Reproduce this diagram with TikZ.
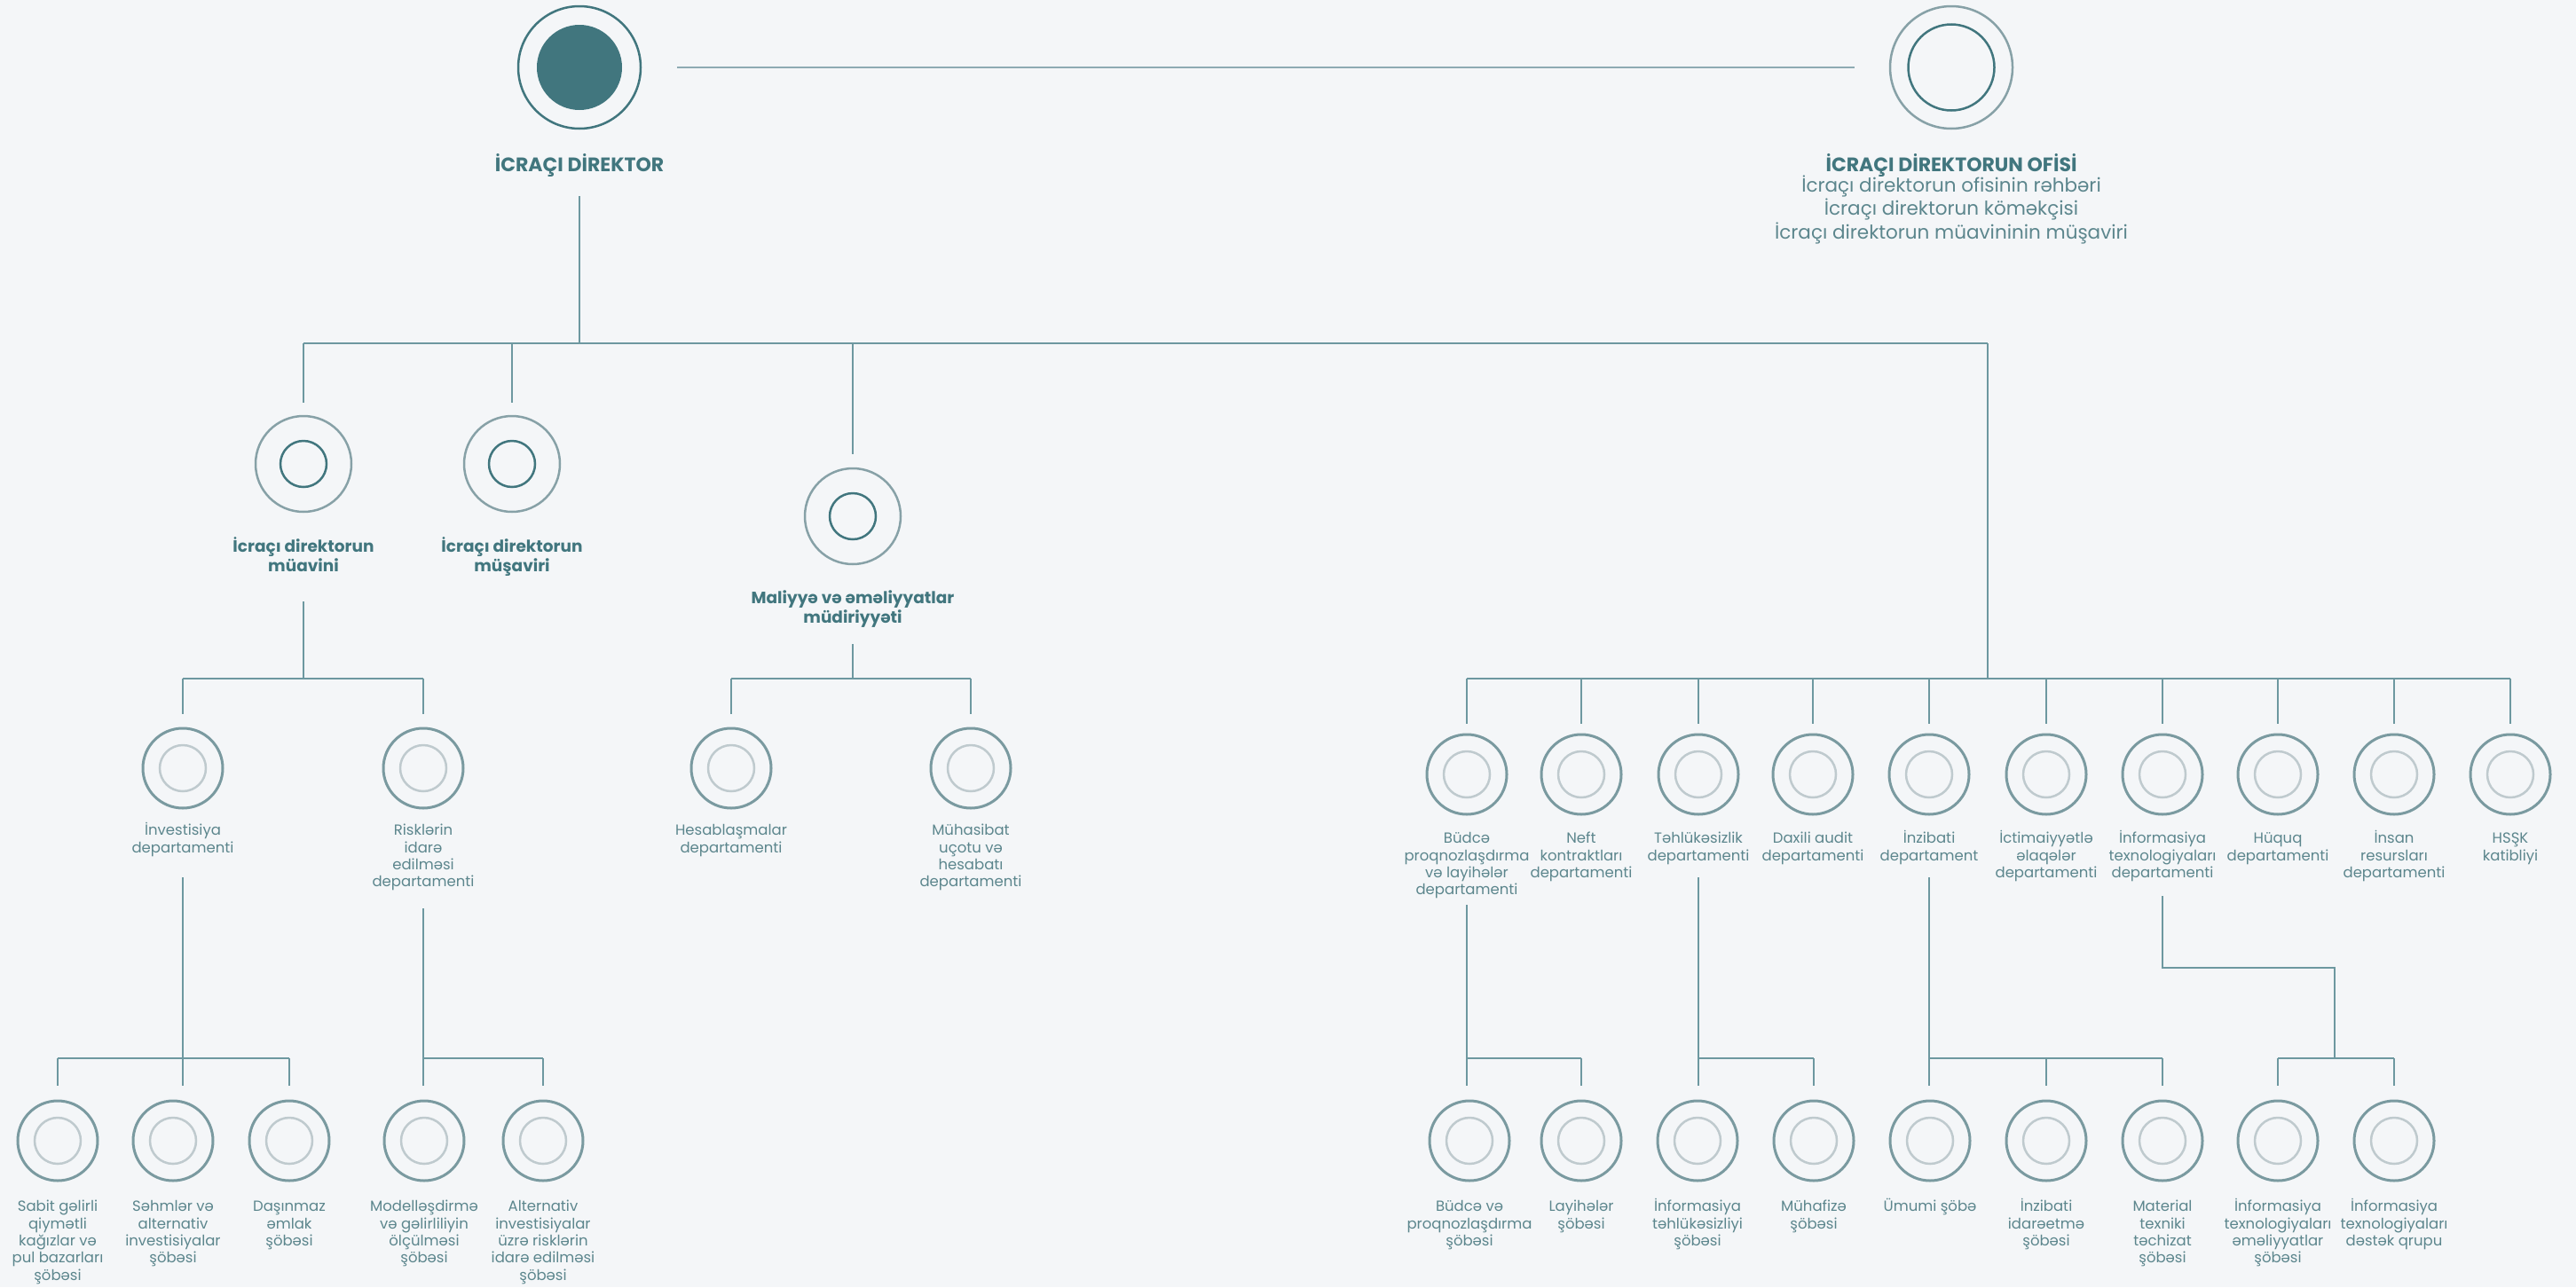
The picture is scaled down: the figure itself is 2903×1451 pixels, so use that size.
\documentclass[tikz,border=0pt]{standalone}
\usepackage{fontspec}
\setmainfont{Poppins}
\definecolor{bg}{HTML}{F4F6F8}
\definecolor{teal}{HTML}{41767E}
\definecolor{ringA}{HTML}{87A1A7}
\definecolor{ringB}{HTML}{7A9AA0}
\definecolor{ringC}{HTML}{BFCACE}
\definecolor{linec}{HTML}{6D98A0}
\definecolor{linetop}{HTML}{8EAAB3}
\definecolor{txt}{HTML}{5C868D}
\newcommand{\tstrut}[1]{\rule{0pt}{#1}}
\begin{document}
\begin{tikzpicture}[x=1pt,y=-1pt,
  conn/.style={draw=linec, line width=2pt},
  toplink/.style={draw=linetop, line width=2pt},
  deptc/.style={circle, draw=ringB, line width=3pt, inner sep=0pt, minimum size=90pt},
  deptin/.style={draw=ringC, line width=2.5pt},
  lvlc/.style={circle, draw=ringA, line width=2.5pt, inner sep=0pt, minimum size=108pt},
  lvlin/.style={draw=teal, line width=2.5pt},
  dlabel/.style={anchor=north, align=center, text=txt, inner sep=0pt, font=\fontsize{16.5}{19.4}\selectfont},
  blabel/.style={anchor=north, align=center, text=teal, inner sep=0pt, font=\fontsize{18.5}{22}\selectfont\bfseries},
]
\fill[bg] (0,0) rectangle (2903,1451);
\useasboundingbox (0,0) rectangle (2903,1451);

% ---------- top ----------
\node[circle, draw=teal, line width=2.5pt, inner sep=0pt, minimum size=138pt] (dir) at (653,76) {};
\fill[teal] (dir.center) circle[radius=48];
\node[anchor=base, text=teal, inner sep=0pt, font=\fontsize{22}{26}\selectfont\bfseries] (dirl) at (653,193) {İCRAÇI DİREKTOR};

\node[circle, draw=ringA, line width=2.5pt, inner sep=0pt, minimum size=138pt] (ofis) at (2199,76) {};
\draw[lvlin] (ofis.center) circle[radius=48.5];
\node[anchor=base, text=teal, inner sep=0pt, font=\fontsize{22}{26}\selectfont\bfseries] (ofisl) at (2199,193) {İCRAÇI DİREKTORUN OFİSİ};
\node[anchor=north, align=center, text=txt, inner sep=0pt, font=\fontsize{21.5}{26.5}\selectfont] (ofisd) at (2199,194.8)
  {\tstrut{21pt}İcraçı direktorun ofisinin rəhbəri\\İcraçı direktorun köməkçisi\\İcraçı direktorun müavininin müşaviri};

\draw[toplink, shorten <=110pt, shorten >=109pt] (dir.center) -- (ofis.center);

% ---------- level 1 ----------
\coordinate (yA) at (0,387);
\coordinate (yB) at (0,765);
\coordinate (yC) at (0,1193);
\coordinate (rb) at (2240,387);

\node[lvlc] (muav) at (342,523) {};
\draw[lvlin] (muav.center) circle[radius=26];
\node[blabel] (muavl) at (342,604) {\tstrut{18pt}İcraçı direktorun\\müavini};
\node[lvlc] (mush) at (577,523) {};
\draw[lvlin] (mush.center) circle[radius=26];
\node[blabel] (mushl) at (577,604) {\tstrut{18pt}İcraçı direktorun\\müşaviri};
\node[lvlc] (mal) at (961,582) {};
\draw[lvlin] (mal.center) circle[radius=26];
\node[blabel] (mall) at (961,662) {\tstrut{18pt}Maliyyə və əməliyyatlar\\müdiriyyəti};

\draw[conn, shorten <=145pt] (dir.center) -- (dir |- yA);
\draw[conn] (muav |- yA) -- (rb);
\draw[conn, shorten >=69pt] (muav |- yA) -- (muav.center);
\draw[conn, shorten >=69pt] (mush |- yA) -- (mush.center);
\draw[conn, shorten >=70pt] (mal |- yA) -- (mal.center);
\draw[conn] (rb) -- (rb |- yB);

% ---------- level 2 left ----------
\foreach \n/\x/\t in {inv/206/{İnvestisiya\\departamenti},
                     risk/477/{Risklərin\\idarə\\edilməsi\\departamenti},
                     hes/824/{Hesablaşmalar\\departamenti},
                     muh/1094/{Mühasibat\\uçotu və\\hesabatı\\departamenti}}{
  \node[deptc] (\n) at (\x,866) {};
  \draw[deptin] (\n.center) circle[radius=26];
  \node[dlabel] (\n l) at (\x,925.5) {\tstrut{16pt}\t};
  \draw[conn, shorten >=61pt] (\n |- yB) -- (\n.center);
}
\draw[conn] (muav |- 0,678) -- (muav |- yB);
\draw[conn] (inv |- yB) -- (risk |- yB);
\draw[conn] (mal |- 0,726) -- (mal |- yB);
\draw[conn] (hes |- yB) -- (muh |- yB);

% ---------- level 2 right ----------
\foreach \n/\x/\t in {bud/1653/{Büdcə\\proqnozlaşdırma\\və layihələr\\departamenti},
                     neft/1782/{Neft\\kontraktları\\departamenti},
                     teh/1914/{Təhlükəsizlik\\departamenti},
                     dax/2043/{Daxili audit\\departamenti},
                     inz/2174/{İnzibati\\departament},
                     ict/2306/{İctimaiyyətlə\\əlaqələr\\departamenti},
                     it/2437/{İnformasiya\\texnologiyaları\\departamenti},
                     huq/2567/{Hüquq\\departamenti},
                     ins/2698/{İnsan\\resursları\\departamenti},
                     hssk/2829/{HSŞK\\katibliyi}}{
  \node[deptc] (\n) at (\x,873) {};
  \draw[deptin] (\n.center) circle[radius=26];
  \node[dlabel] (\n l) at (\x,934.5) {\tstrut{16pt}\t};
  \draw[conn, shorten >=57pt] (\n |- yB) -- (\n.center);
}
\draw[conn] (bud |- yB) -- (hssk |- yB);

% ---------- level 3 ----------
\foreach \n/\x/\t in {s1/65/{Sabit gəlirli\\qiymətli\\kağızlar və\\pul bazarları\\şöbəsi},
                     s2/195/{Səhmlər və\\alternativ\\investisiyalar\\şöbəsi},
                     s3/326/{Daşınmaz\\əmlak\\şöbəsi},
                     s4/478/{Modelləşdirmə\\və gəlirliliyin\\ölçülməsi\\şöbəsi},
                     s5/612/{Alternativ\\investisiyalar\\üzrə risklərin\\idarə edilməsi\\şöbəsi},
                     s6/1656/{Büdcə və\\proqnozlaşdırma\\şöbəsi},
                     s7/1782/{Layihələr\\şöbəsi},
                     s8/1913/{İnformasiya\\təhlükəsizliyi\\şöbəsi},
                     s9/2044/{Mühafizə\\şöbəsi},
                     s10/2175/{Ümumi şöbə},
                     s11/2306/{İnzibati\\idarəetmə\\şöbəsi},
                     s12/2437/{Material\\texniki\\təchizat\\şöbəsi},
                     s13/2567/{İnformasiya\\texnologiyaları\\əməliyyatlar\\şöbəsi},
                     s14/2698/{İnformasiya\\texnologiyaları\\dəstək qrupu}}{
  \node[deptc] (\n) at (\x,1286) {};
  \draw[deptin] (\n.center) circle[radius=26];
  \node[dlabel] (\n l) at (\x,1349.5) {\tstrut{16pt}\t};
}
% investisiya
\draw[conn] (inv |- 0,989) -- (inv |- 0,1224);
\draw[conn] (s1 |- yC) -- (s3 |- yC);
\draw[conn, shorten >=62pt] (s1 |- yC) -- (s1.center);
\draw[conn, shorten >=62pt] (s3 |- yC) -- (s3.center);
% risk
\draw[conn] (risk |- 0,1024) -- (risk |- 0,1224);
\draw[conn] (risk |- yC) -- (s5 |- yC);
\draw[conn, shorten >=62pt] (s5 |- yC) -- (s5.center);
% budce
\draw[conn] (bud |- 0,1020) -- (bud |- 0,1224);
\draw[conn] (bud |- yC) -- (s7 |- yC);
\draw[conn, shorten >=62pt] (s7 |- yC) -- (s7.center);
% tehlukesizlik
\draw[conn] (teh |- 0,989) -- (teh |- 0,1224);
\draw[conn] (teh |- yC) -- (s9 |- yC);
\draw[conn, shorten >=62pt] (s9 |- yC) -- (s9.center);
% inzibati
\draw[conn] (inz |- 0,989) -- (inz |- 0,1224);
\draw[conn] (inz |- yC) -- (s12 |- yC);
\draw[conn, shorten >=62pt] (s11 |- yC) -- (s11.center);
\draw[conn, shorten >=62pt] (s12 |- yC) -- (s12.center);
% IT
\coordinate (itk) at (2631,1091);
\draw[conn] (it |- 0,1010) -- (it |- itk) -- (itk) -- (itk |- yC);
\draw[conn] (s13 |- yC) -- (s14 |- yC);
\draw[conn, shorten >=62pt] (s13 |- yC) -- (s13.center);
\draw[conn, shorten >=62pt] (s14 |- yC) -- (s14.center);
\end{tikzpicture}
\end{document}
